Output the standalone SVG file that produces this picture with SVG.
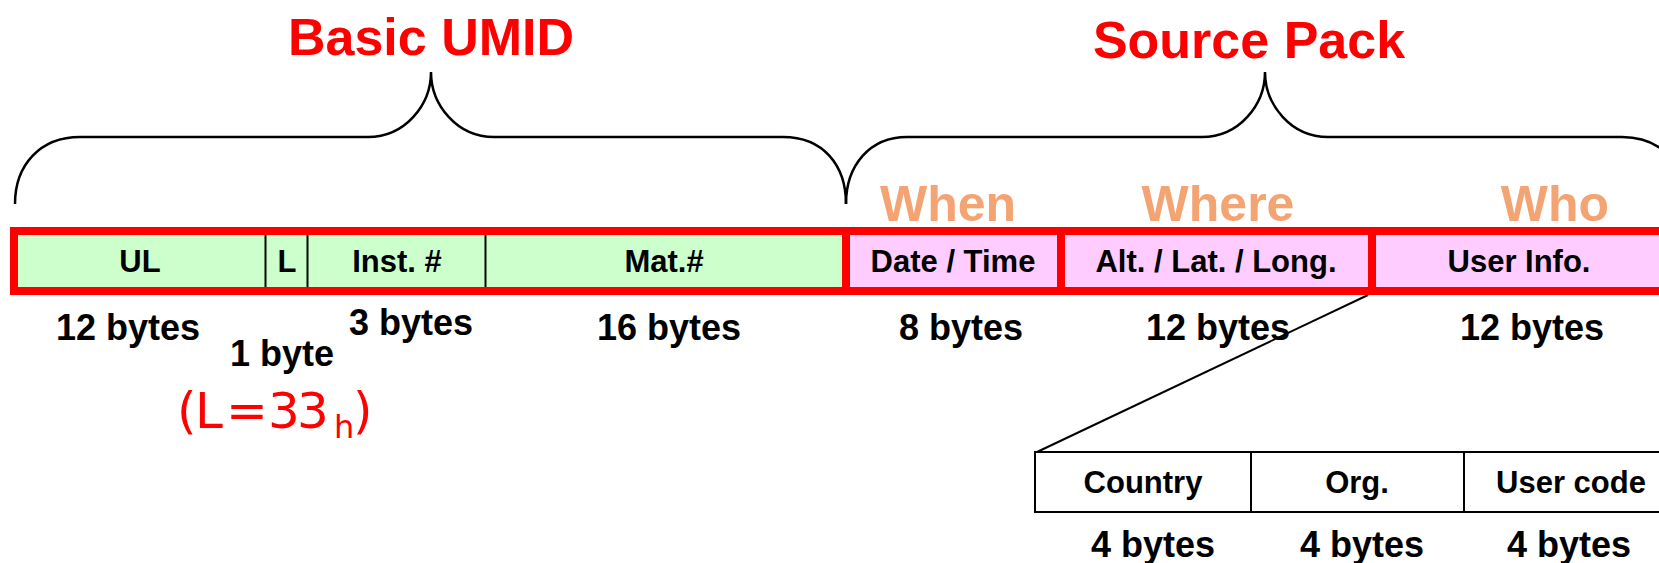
<svg xmlns="http://www.w3.org/2000/svg" width="1659" height="563" viewBox="0 0 1659 563">
<style>
.title{font-family:"Liberation Sans",Arial,sans-serif;font-weight:bold;font-size:52px;fill:#FF0000;text-anchor:middle}
.sub{font-family:"Liberation Sans",Arial,sans-serif;font-weight:bold;font-size:50px;fill:#F4A373;text-anchor:middle}
.cell{font-family:"Liberation Sans",Arial,sans-serif;font-weight:bold;font-size:31px;fill:#000;text-anchor:middle}
.bytes{font-family:"Liberation Sans",Arial,sans-serif;font-weight:bold;font-size:36px;fill:#000;text-anchor:middle}
.brace{fill:none;stroke:#000;stroke-width:2.5}
.green{fill:#CCFFCC;stroke:#FF0000;stroke-width:8}
.pink{fill:#FFCCFF;stroke:#FF0000;stroke-width:8}
.div{stroke:#000;stroke-width:2}
.sub33{font-family:"DejaVu Sans",sans-serif;font-size:50px;fill:#FF0000}
.tbl{fill:#FFFFFF;stroke:#000;stroke-width:2}
</style>
<g id="connectors">
<path class="brace" d="M15,204 C15,165 40,137 80,137 L368,137 C405,137 431,105 431,72 C431,105 457,137 494,137 L783,137 C823,137 846,165 846,204"/>
<path class="brace" d="M846,204 C846,165 870,137 907,137 L1202,137 C1239,137 1265,105 1265,72 C1265,105 1291,137 1328,137 L1622,137 C1662,137 1686,165 1686,204"/>
<line x1="1368" y1="295" x2="1037" y2="452" stroke="#000" stroke-width="2"/>
</g>
<g id="titles">
<text class="title" x="431" y="55">Basic UMID</text>
<text class="title" x="1249" y="58">Source Pack</text>
<text class="sub" x="948" y="221">When</text>
<text class="sub" x="1218" y="221">Where</text>
<text class="sub" x="1555" y="221">Who</text>
</g>
<g id="umid">
<rect class="green" x="14" y="231" width="832" height="60"/>
<line class="div" x1="265.5" y1="235" x2="265.5" y2="287"/>
<line class="div" x1="307.5" y1="235" x2="307.5" y2="287"/>
<line class="div" x1="485.5" y1="235" x2="485.5" y2="287"/>
<text class="cell" x="140" y="272">UL</text>
<text class="cell" x="287" y="272">L</text>
<text class="cell" x="397" y="272">Inst. #</text>
<text class="cell" x="664" y="272">Mat.#</text>
</g>
<g id="date-time">
<rect class="pink" x="846" y="231" width="215" height="60"/>
<text class="cell" x="953" y="272">Date / Time</text>
</g>
<g id="alt-lat-long">
<rect class="pink" x="1061" y="231" width="311" height="60"/>
<text class="cell" x="1216" y="272">Alt. / Lat. / Long.</text>
</g>
<g id="user-info">
<rect class="pink" x="1372" y="231" width="294" height="60"/>
<text class="cell" x="1519" y="272">User Info.</text>
</g>
<g id="byte-labels">
<text class="bytes" x="128" y="340">12 bytes</text>
<text class="bytes" x="411" y="335">3 bytes</text>
<text class="bytes" x="669" y="340">16 bytes</text>
<text class="bytes" x="282" y="366">1 byte</text>
<text class="sub33"><tspan x="177" y="428">(</tspan><tspan x="195" y="428">L</tspan><tspan x="226" y="428">=</tspan><tspan x="268" y="428">3</tspan><tspan x="297" y="428">3</tspan><tspan x="334" y="438" font-size="32">h</tspan><tspan x="353" y="428">)</tspan></text>
<text class="bytes" x="961" y="340">8 bytes</text>
<text class="bytes" x="1218" y="340">12 bytes</text>
<text class="bytes" x="1532" y="340">12 bytes</text>
</g>
<g id="user-table">
<rect class="tbl" x="1035" y="452" width="645" height="60"/>
<line class="div" x1="1251" y1="452" x2="1251" y2="512"/>
<line class="div" x1="1464" y1="452" x2="1464" y2="512"/>
<text class="cell" x="1143" y="493">Country</text>
<text class="cell" x="1357" y="493">Org.</text>
<text class="cell" x="1571" y="493">User code</text>
<text class="bytes" x="1153" y="557">4 bytes</text>
<text class="bytes" x="1362" y="557">4 bytes</text>
<text class="bytes" x="1569" y="557">4 bytes</text>
</g>
</svg>
